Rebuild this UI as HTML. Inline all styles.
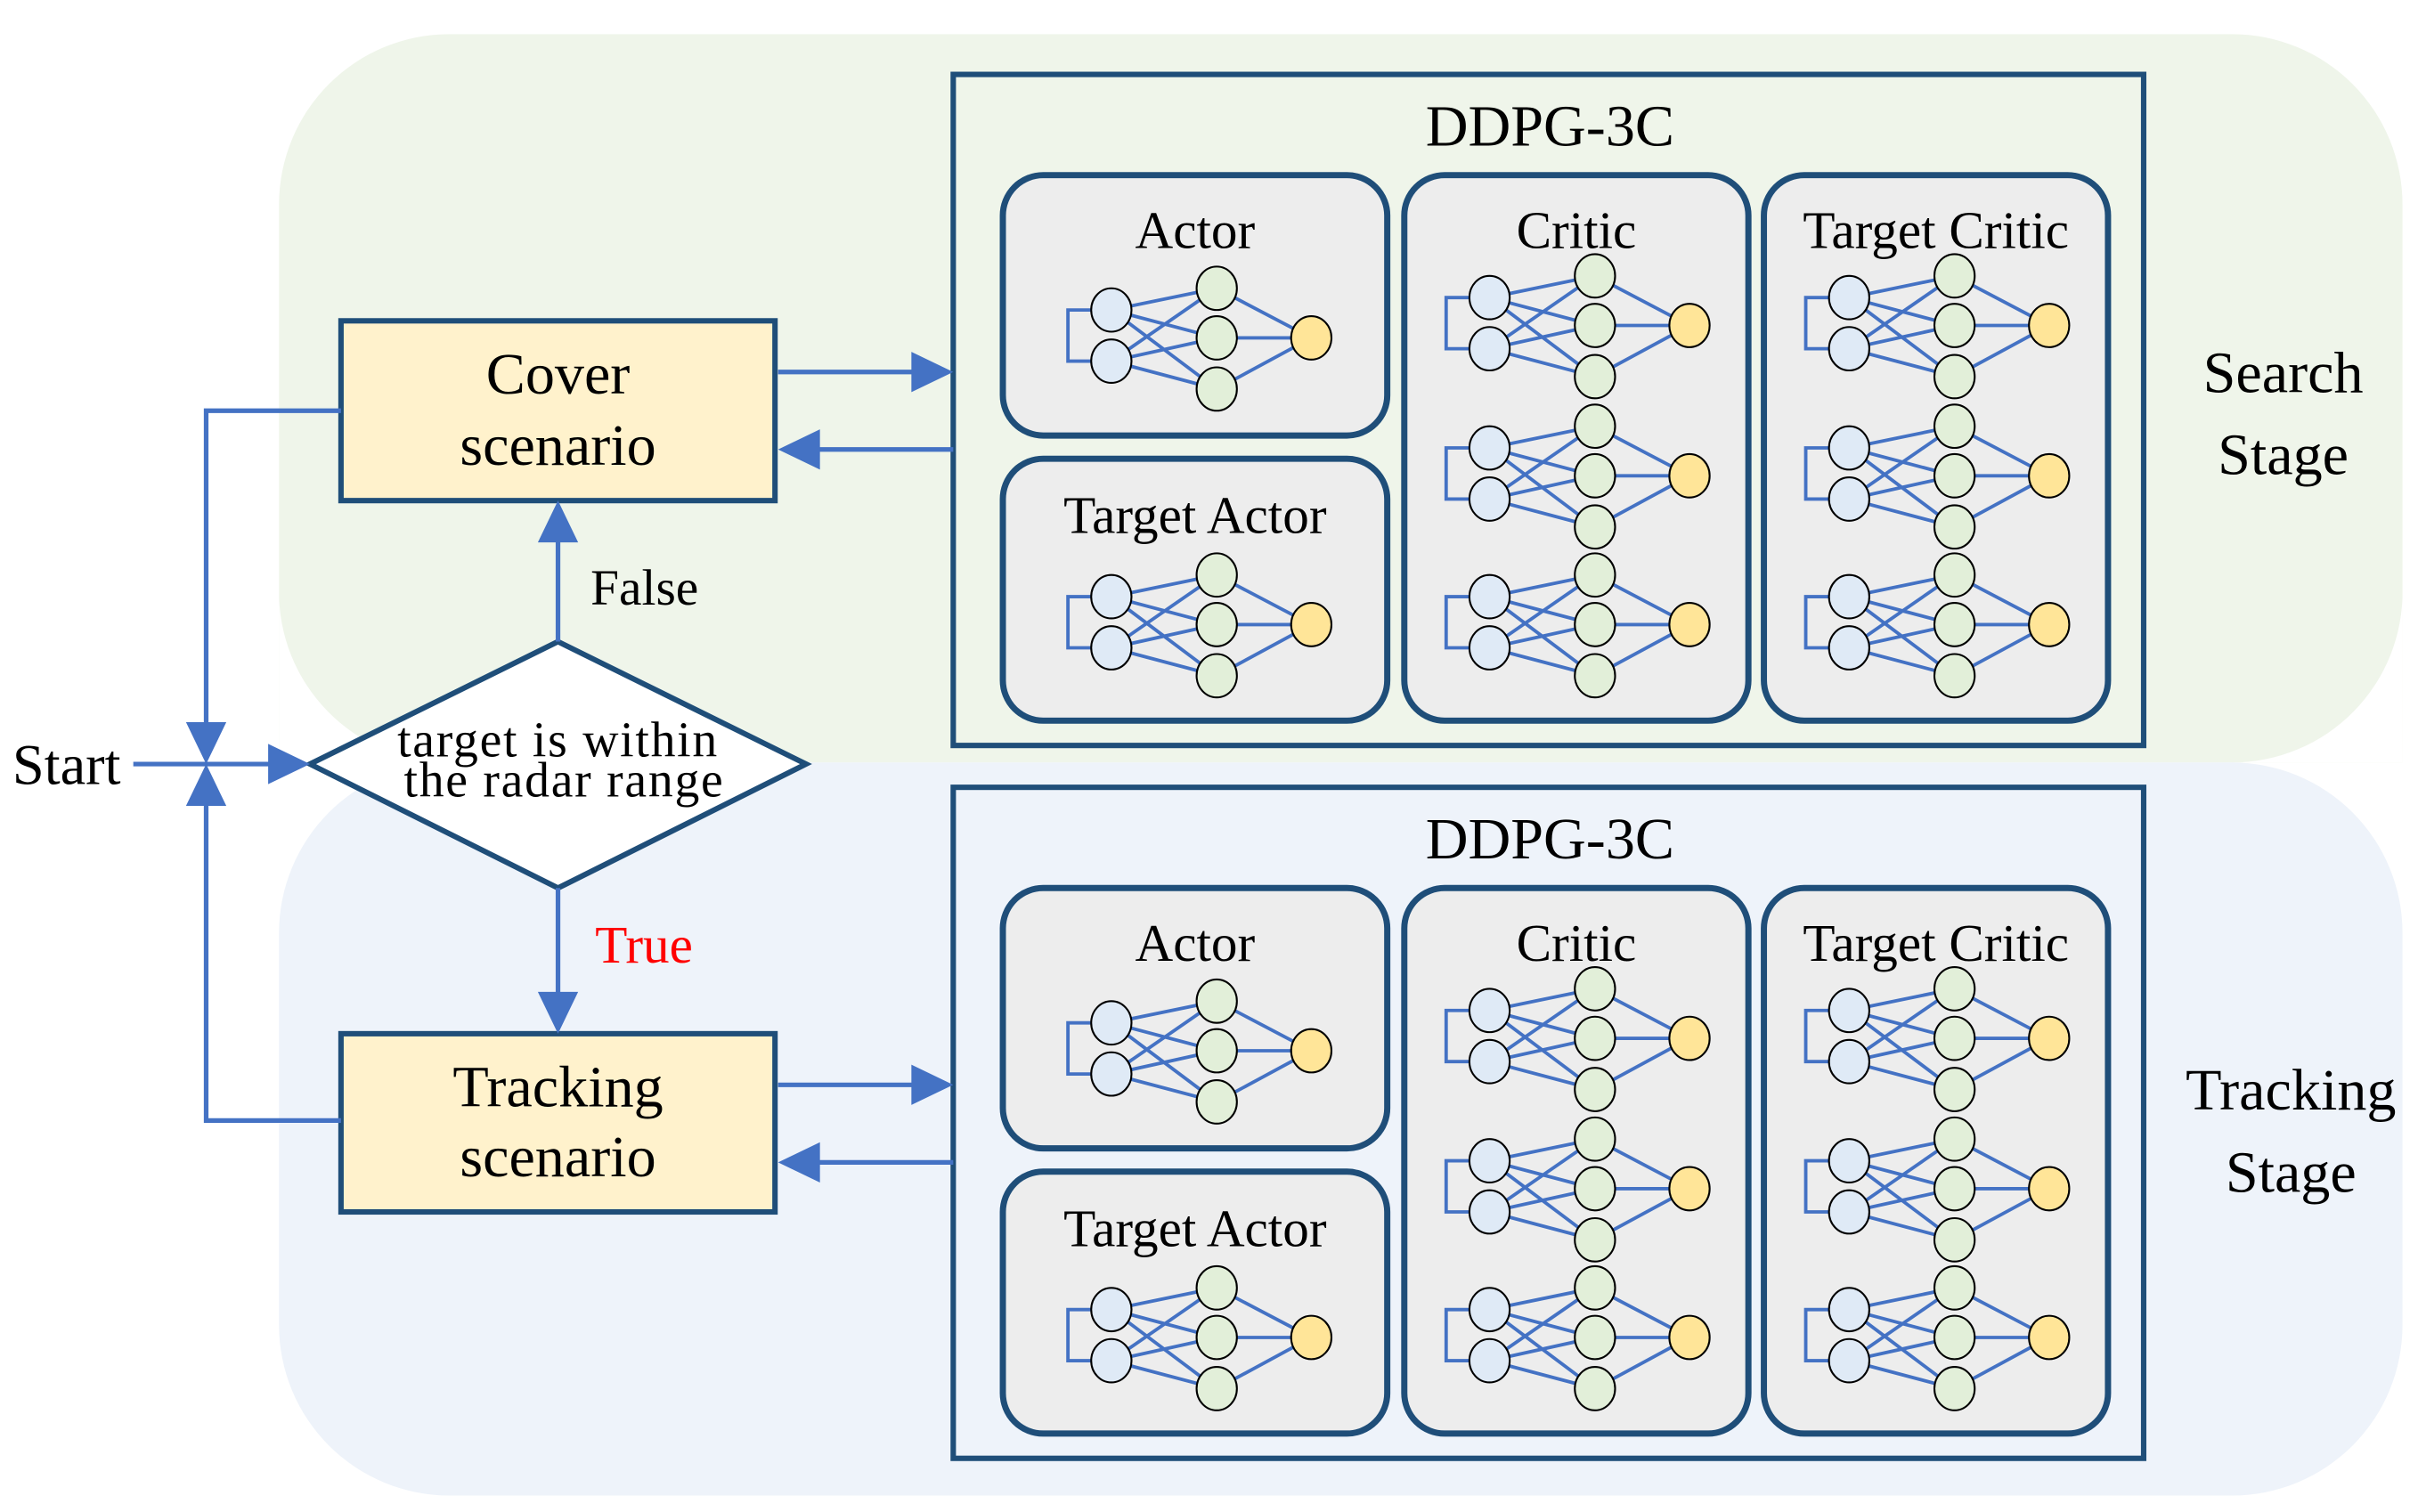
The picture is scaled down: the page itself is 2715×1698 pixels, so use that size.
<!DOCTYPE html>
<html><head><meta charset="utf-8"><style>
html,body{margin:0;padding:0;background:#fff}
svg{display:block}
text{font-family:"Liberation Serif",serif;fill:#000}
</style></head><body>
<svg width="2715" height="1698" viewBox="0 0 1560 975.6" xmlns="http://www.w3.org/2000/svg">
<defs>
<g id="net">
 <g stroke="#4472c4" stroke-width="2.2" fill="none">
  <polyline points="0,0 -28,0 -28,33 0,33"/>
  <line x1="0" y1="0" x2="68" y2="-14"/><line x1="0" y1="0" x2="68" y2="18"/><line x1="0" y1="0" x2="68" y2="51"/>
  <line x1="0" y1="33" x2="68" y2="-14"/><line x1="0" y1="33" x2="68" y2="18"/><line x1="0" y1="33" x2="68" y2="51"/>
  <line x1="68" y1="-14" x2="129" y2="18"/><line x1="68" y1="18" x2="129" y2="18"/><line x1="68" y1="51" x2="129" y2="18"/>
 </g>
 <g stroke="#000" stroke-width="1.2">
  <ellipse cx="0" cy="0" rx="13" ry="14" fill="#dfeaf6"/>
  <ellipse cx="0" cy="33" rx="13" ry="14" fill="#dfeaf6"/>
  <ellipse cx="68" cy="-14" rx="13" ry="14" fill="#e2efd9"/>
  <ellipse cx="68" cy="18" rx="13" ry="14" fill="#e2efd9"/>
  <ellipse cx="68" cy="51" rx="13" ry="14" fill="#e2efd9"/>
  <ellipse cx="129" cy="18" rx="13" ry="14" fill="#ffe598"/>
 </g>
</g>
<g id="ddpg">
 <rect x="615" y="48" width="768" height="433" fill="none" stroke="#1f4e79" stroke-width="3.5"/>
 <text x="1000" y="94" font-size="38" text-anchor="middle">DDPG-3C</text>
 <g fill="#ededed" stroke="#1f4e79" stroke-width="4">
  <rect x="647" y="113" width="248" height="168" rx="26"/>
  <rect x="647" y="296" width="248" height="169" rx="26"/>
  <rect x="906" y="113" width="222" height="352" rx="26"/>
  <rect x="1138" y="113" width="222" height="352" rx="26"/>
 </g>
 <g font-size="34" text-anchor="middle">
  <text x="771" y="160">Actor</text>
  <text x="771" y="344">Target Actor</text>
  <text x="1017" y="160">Critic</text>
  <text x="1249" y="160">Target Critic</text>
 </g>
 <use href="#net" x="717" y="200"/>
 <use href="#net" x="717" y="385"/>
 <use href="#net" x="961" y="192"/>
 <use href="#net" x="961" y="289"/>
 <use href="#net" x="961" y="385"/>
 <use href="#net" x="1193" y="192"/>
 <use href="#net" x="1193" y="289"/>
 <use href="#net" x="1193" y="385"/>
</g>
</defs>

<path d="M290,22 H1440 A110,110 0 0 1 1550,132 V492 H180 V132 A110,110 0 0 1 290,22 Z" fill="#eff5ea"/>
<path d="M290,492 H1440 A110,110 0 0 1 1550,602 V855 A110,110 0 0 1 1440,965 H290 A110,110 0 0 1 180,855 V602 A110,110 0 0 1 290,492 Z" fill="#eef3fa"/>
<path d="M180,380 A110,110 0 0 0 290,492 H180 Z" fill="#fff"/>
<path d="M1550,380 A110,110 0 0 1 1440,492 H1550 Z" fill="#fff"/>

<use href="#ddpg"/>
<use href="#ddpg" y="460"/>

<g font-size="38" text-anchor="middle">
 <text x="1473" y="253">Search</text>
 <text x="1473" y="306">Stage</text>
 <text x="1478" y="716">Tracking</text>
 <text x="1478" y="769">Stage</text>
</g>

<g fill="#fff2cc" stroke="#1f4e79" stroke-width="3.5">
 <rect x="220" y="207" width="280" height="116"/>
 <rect x="220" y="667" width="280" height="115"/>
</g>
<g font-size="38" text-anchor="middle">
 <text x="360" y="254">Cover</text>
 <text x="360" y="300">scenario</text>
 <text x="360" y="714">Tracking</text>
 <text x="360" y="759">scenario</text>
</g>

<polygon points="360,414 520,493 360,573 200,493" fill="#fff" stroke="#1f4e79" stroke-width="3.5"/>
<g font-size="32" text-anchor="middle" letter-spacing="1">
 <text x="360" y="488">target is within</text>
 <text x="364" y="514">the radar range</text>
</g>

<g stroke="#4472c4" stroke-width="3" fill="none">
 <line x1="502" y1="240" x2="592" y2="240"/>
 <line x1="615" y1="290" x2="525" y2="290"/>
 <line x1="502" y1="700" x2="592" y2="700"/>
 <line x1="615" y1="750" x2="525" y2="750"/>
 <line x1="360" y1="414" x2="360" y2="348"/>
 <line x1="360" y1="573" x2="360" y2="642"/>
 <polyline points="220,265 133,265 133,470"/>
 <polyline points="220,723 133,723 133,516"/>
 <line x1="86" y1="493" x2="176" y2="493"/>
</g>
<g fill="#4472c4">
 <polygon points="615,240 588,227 588,253"/>
 <polygon points="502,290 529,277 529,303"/>
 <polygon points="615,700 588,687 588,713"/>
 <polygon points="502,750 529,737 529,763"/>
 <polygon points="360,323 347,350 373,350"/>
 <polygon points="360,667 347,640 373,640"/>
 <polygon points="133,493 120,466 146,466"/>
 <polygon points="133,493 120,520 146,520"/>
 <polygon points="200,493 173,480 173,506"/>
</g>
<text x="381" y="390" font-size="33">False</text>
<text x="384" y="621" font-size="34" style="fill:#ff0000">True</text>
<text x="8" y="506" font-size="37">Start</text>
</svg>
</body></html>
